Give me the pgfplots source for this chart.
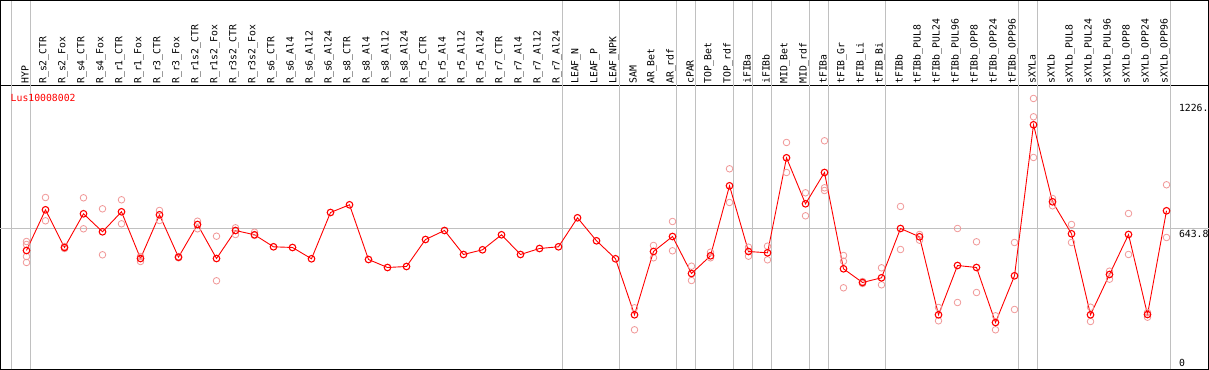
\documentclass[border=0pt]{standalone}
\usepackage{fontspec}
\setmonofont{DejaVu Sans Mono}
\usepackage{pgfplots}
\usepackage{pgfplotstable}
\pgfplotsset{compat=1.18}
\definecolor{mainred}{RGB}{255,0,0}
\definecolor{reppink}{RGB}{240,150,150}
\definecolor{gridgray}{RGB}{192,192,192}
\pgfplotstableread{
x y
0 539.1
1 735.0
2 553.6
3 715.8
4 629.1
5 725.4
6 500.6
7 710.9
8 506.9
9 664.3
10 500.6
11 635.4
12 614.7
13 556.9
14 553.6
15 499.2
16 722.0
17 759.1
18 495.8
19 457.3
20 462.1
21 592.1
22 635.4
23 519.9
24 542.5
25 614.7
26 519.9
27 548.7
28 556.9
29 696.5
30 585.8
31 499.2
32 229.6
33 534.3
34 606.5
35 428.4
36 513.6
37 850.5
38 534.3
39 528.0
40 985.3
41 763.9
42 914.6
43 451.0
44 385.1
45 407.7
46 645.0
47 605.1
48 229.6
49 466.9
50 457.3
51 192.5
52 417.3
53 1144.2
54 773.5
55 619.5
56 229.6
57 423.6
58 616.1
59 231.0
60 730.2
}\maindata
\pgfplotstableread{
x y
0 582.4
0 568.0
0 510.2
0 481.4
1 794.2
1 682.1
2 558.4
2 548.7
3 792.8
3 643.6
4 739.8
4 518.4
5 783.2
5 667.6
6 510.2
6 486.2
7 731.7
7 683.5
8 510.2
8 504.0
9 680.1
9 643.6
10 607.9
10 393.3
11 648.4
11 616.1
12 627.2
12 611.3
32 263.3
32 157.4
33 563.2
33 504.0
34 678.7
34 537.7
35 463.5
35 394.7
36 530.9
36 504.0
37 932.4
37 770.2
38 555.0
38 511.7
39 559.8
39 494.3
40 1059.0
40 914.6
41 816.9
41 706.1
42 1067.2
42 840.9
42 827.9
43 515.0
43 487.6
43 359.6
44 389.9
44 380.3
45 455.8
45 374.0
46 750.9
46 543.9
47 616.1
47 588.7
48 264.7
48 200.7
49 645.0
49 288.8
50 581.0
50 336.9
51 224.8
51 157.4
52 577.6
52 255.1
53 1270.8
53 1182.7
53 986.8
54 789.4
54 754.3
55 664.3
55 577.6
56 266.2
56 197.4
57 439.5
57 401.0
58 717.2
58 519.9
59 240.7
59 218.1
60 855.4
60 601.7
}\repdata
\begin{document}
\begin{tikzpicture}
\begin{axis}[
  scale only axis,
  width=1208pt, height=284pt,
  xmin=-1.36842, xmax=62.2105,
  ymin=-33.69, ymax=1333.3,
  clip=false,
  axis line style={line width=1pt, black},
  ytick=\empty,
  xtick={0,...,60},
  major tick length=0pt,
  xticklabel pos=upper,
  xticklabels={HYP,R\_s2\_CTR,R\_s2\_Fox,R\_s4\_CTR,R\_s4\_Fox,R\_r1\_CTR,R\_r1\_Fox,R\_r3\_CTR,R\_r3\_Fox,R\_r1s2\_CTR,R\_r1s2\_Fox,R\_r3s2\_CTR,R\_r3s2\_Fox,R\_s6\_CTR,R\_s6\_Al4,R\_s6\_Al12,R\_s6\_Al24,R\_s8\_CTR,R\_s8\_Al4,R\_s8\_Al12,R\_s8\_Al24,R\_r5\_CTR,R\_r5\_Al4,R\_r5\_Al12,R\_r5\_Al24,R\_r7\_CTR,R\_r7\_Al4,R\_r7\_Al12,R\_r7\_Al24,LEAF\_N,LEAF\_P,LEAF\_NPK,SAM,AR\_Bet,AR\_rdf,cPAR,TOP\_Bet,TOP\_rdf,iFIBa,iFIBb,MID\_Bet,MID\_rdf,tFIBa,tFIB\_Gr,tFIB\_Li,tFIB\_Bi,tFIBb,tFIBb\_PUL8,tFIBb\_PUL24,tFIBb\_PUL96,tFIBb\_OPP8,tFIBb\_OPP24,tFIBb\_OPP96,sXYLa,sXYLb,sXYLb\_PUL8,sXYLb\_PUL24,sXYLb\_PUL96,sXYLb\_OPP8,sXYLb\_OPP24,sXYLb\_OPP96},
  xticklabel style={xshift=-1.5pt, rotate=90, anchor=west, inner sep=1.5pt, font=\ttfamily\fontsize{9.8}{10}\selectfont},
]
\pgfplotsinvokeforeach{-0.7684,0.2316,28.2316,31.2316,34.2316,35.2316,37.2316,38.2316,39.2316,41.2316,42.2316,45.2316,52.2316,53.2316,60.2316}{
  \draw[gridgray, line width=0.9pt] (axis cs:#1,-33.69) -- (axis cs:#1,1742.5);
}
\draw[gridgray, line width=0.9pt] (axis cs:-1.36842,643.8) -- (axis cs:62.2105,643.8);
\draw[line width=1pt, black] (axis cs:-1.36842,1333.3) -- (axis cs:-1.36842,1742.5) -- (axis cs:62.2105,1742.5) -- (axis cs:62.2105,1333.3);
\addplot[only marks, mark=o, mark size=3.3pt, mark options={reppink, line width=0.8pt}] table[x=x,y=y] {\repdata};
\addplot[mainred, line width=0.9pt, mark=o, mark size=3.3pt, mark options={line width=1.1pt}] table[x=x,y=y] {\maindata};
\node[anchor=west, inner sep=0pt, text=mainred, font=\ttfamily\fontsize{9.8}{10}\selectfont] at (axis cs:-0.842,1272.2) {Lus10008002};
\node[anchor=west, inner sep=0pt, font=\ttfamily\fontsize{9.8}{10}\selectfont] at (axis cs:60.647,1226) {1226.};
\node[anchor=west, inner sep=0pt, font=\ttfamily\fontsize{9.8}{10}\selectfont] at (axis cs:60.647,620.9) {643.8};
\node[anchor=west, inner sep=0pt, font=\ttfamily\fontsize{9.8}{10}\selectfont] at (axis cs:60.647,0) {0};
\end{axis}
\pgfresetboundingbox
\path[use as bounding box] ([xshift=-0.5pt,yshift=-0.5pt]current axis.south west) rectangle ([xshift=0.5pt,yshift=85.5pt]current axis.north east);
\end{tikzpicture}
\end{document}
